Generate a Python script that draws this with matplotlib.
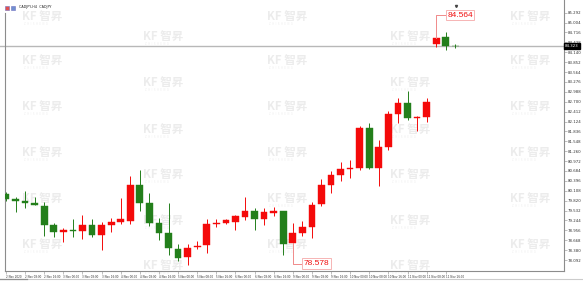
import matplotlib.pyplot as plt
from matplotlib.patches import Rectangle
from matplotlib.lines import Line2D
import numpy as np

W, H = 583, 286

# H4 candles
opens = [80.005, 79.859, 79.819, 79.743, 79.673, 79.102, 78.899, 78.966, 78.936, 79.102,
         78.820, 79.111, 79.207, 79.228, 80.276, 79.760, 79.178, 78.870, 78.412, 78.188,
         78.462, 78.529, 79.132, 79.161, 79.207, 79.353, 79.519, 79.286, 79.469, 79.519,
         78.578, 78.870, 79.044, 79.723, 80.267, 80.567, 80.733, 80.762, 81.927, 80.762,
         81.373, 82.343, 82.654, 82.235, 82.264, 84.372, 84.593, 84.334]
highs = [80.072, 79.935, 80.101, 79.935, 79.772, 79.178, 79.033, 79.277, 79.394, 79.277,
         79.207, 79.306, 79.889, 80.538, 80.712, 80.034, 79.315, 79.760, 78.549, 78.558,
         78.645, 79.277, 79.277, 79.277, 79.402, 79.935, 79.597, 79.597, 79.626, 79.519,
         79.178, 79.228, 79.790, 80.450, 80.692, 80.954, 81.004, 81.994, 82.090, 81.586,
         82.439, 82.800, 83.013, 82.285, 82.800, 84.564, 84.739, 84.372]
lows = [79.810, 79.498, 79.597, 79.679, 78.791, 78.771, 78.625, 78.753, 78.695, 78.771,
        78.383, 78.916, 79.140, 79.140, 79.528, 79.082, 78.674, 78.238, 78.072, 77.947,
        78.404, 78.287, 79.044, 79.132, 78.966, 79.257, 78.966, 79.111, 79.373, 78.238,
        78.578, 78.791, 78.724, 79.664, 80.034, 80.401, 80.471, 80.712, 80.733, 80.247,
        81.295, 82.072, 82.168, 81.857, 82.119, 84.302, 84.206, 84.256]
closes = [79.868, 79.810, 79.743, 79.693, 79.111, 78.907, 78.966, 78.936, 79.102, 78.829,
          79.102, 79.207, 79.277, 80.276, 79.743, 79.161, 78.870, 78.433, 78.159, 78.450,
          78.508, 79.132, 79.161, 79.257, 79.373, 79.519, 79.286, 79.481, 79.510, 78.558,
          78.887, 79.044, 79.693, 80.267, 80.558, 80.733, 80.779, 81.927, 80.762, 81.373,
          82.334, 82.672, 82.235, 82.264, 82.701, 84.564, 84.323, 84.323]

time_labels = ["2 Nov 2020", "2 Nov 08:00", "2 Nov 16:00", "3 Nov 00:00", "3 Nov 08:00",
               "3 Nov 16:00", "4 Nov 00:00", "4 Nov 08:00", "4 Nov 16:00", "5 Nov 00:00",
               "5 Nov 08:00", "5 Nov 16:00", "6 Nov 00:00", "6 Nov 08:00", "6 Nov 16:00",
               "9 Nov 00:00", "9 Nov 08:00", "9 Nov 16:00", "10 Nov 00:00", "10 Nov 08:00",
               "10 Nov 16:00", "11 Nov 00:00", "11 Nov 08:00", "11 Nov 16:00"]

price_ticks = [85.292, 85.004, 84.716, 84.428, 84.140, 83.852, 83.564, 83.276, 82.988,
               82.700, 82.412, 82.124, 81.836, 81.548, 81.260, 80.972, 80.684, 80.396,
               80.108, 79.820, 79.532, 79.244, 78.956, 78.668, 78.380, 78.092]

last_price = 84.323
high_mark = 84.564
low_mark = 78.578
symbol = "CADJPY,H4  CADJPY"

up_col = "#f40a0a"
down_col = "#237f1b"

fig = plt.figure(figsize=(W / 100, H / 100), dpi=100)
fig.patch.set_facecolor("white")


def fx(x):
    return x / W


def fy(y):
    return 1 - y / H


# watermark grid
cjk = ["Noto Sans CJK SC", "DejaVu Sans"]
for col_x, rows in [((22, 267, 510), (16, 60, 106, 152, 198, 244)),
                    ((143, 390), (36, 82, 129, 174, 220, 265))]:
    for wx in col_x:
        for wy in rows:
            fig.text(fx(wx), fy(wy), "KF 智昇", family=cjk, fontsize=8.3,
                     fontweight="bold", color="#ececec", va="center", ha="left", zorder=-2)
            fig.text(fx(wx + 2), fy(wy + 8), "Z  H  I  S  H  E  N  G", fontsize=1.8,
                     color="#ededed", va="center", ha="left", zorder=-2)

ax = fig.add_axes([fx(5), 15 / H, 559 / W, 271 / H])
ax.patch.set_alpha(0)

x = np.arange(len(opens))
o = np.array(opens)
c = np.array(closes)
cols = [up_col if cc >= oo else down_col for oo, cc in zip(o, c)]
bottoms = np.minimum(o, c)
heights = np.maximum(np.abs(c - o), 0.012)

ax.vlines(x, lows, highs, colors=cols, lw=0.7, zorder=2)
ax.bar(x, heights, 0.7, bottom=bottoms, color=cols, edgecolor=cols, lw=0.3, zorder=3)

ax.set_xlim(-0.105, 58.37)
ax.set_ylim(77.772, 85.662)

# current price line
ax.axhline(last_price, xmin=-5 / 559, xmax=1, color="#b8b8b8", lw=1.0, zorder=1, clip_on=False)
ax.text(1.002, last_price, "%.3f" % last_price, transform=ax.get_yaxis_transform(),
        fontsize=2.8, color="white", va="center", ha="left",
        bbox=dict(boxstyle="square,pad=0.35", fc="black", ec="black"))

# high / low markers
ux = 1 / 9.56      # data units per pixel, x
uy = 0.029115      # data units per pixel, y
mark_col = "#f08a8a"
hi_i, lo_i = 45, 30
ax.plot([hi_i, hi_i, hi_i + 10 * ux], [high_mark, high_mark + 22.7 * uy, high_mark + 22.7 * uy],
        color=mark_col, lw=0.7, clip_on=False, zorder=4)
ax.text(hi_i + 11 * ux, high_mark + 22.7 * uy, "%.3f" % high_mark, family="Liberation Sans",
        fontsize=6, color="#f01010", ha="left", va="center", zorder=5,
        bbox=dict(boxstyle="square,pad=0.15", fc="white", ec="#f6b4b4", lw=0.7))
ax.plot([hi_i + 20 * ux], [high_mark + 31.5 * uy], marker="v", ms=1.5, color="#444444",
        clip_on=False, zorder=5)
ax.plot([lo_i, lo_i, lo_i + 10 * ux], [low_mark, low_mark - 20.2 * uy, low_mark - 20.2 * uy],
        color=mark_col, lw=0.7, clip_on=False, zorder=4)
ax.text(lo_i + 11 * ux, low_mark - 20.2 * uy, "%.3f" % low_mark, family="Liberation Sans",
        fontsize=6, color="#f01010", ha="left", va="center", zorder=5,
        bbox=dict(boxstyle="square,pad=0.2", fc="white", ec="#f6b4b4", lw=0.7))

# axes styling
ax.spines["top"].set_visible(False)
for s in ["left", "right", "bottom"]:
    ax.spines[s].set_color("#8c8c8c")
    ax.spines[s].set_linewidth(0.8)
ax.spines["left"].set_bounds(77.772, 85.662 - 13 * uy)

ax.yaxis.tick_right()
ax.set_yticks(price_ticks)
ax.set_yticklabels(["%.3f" % v for v in price_ticks])
ax.tick_params(axis="y", labelsize=2.8, length=2, width=0.4, pad=1,
               colors="#8c8c8c", labelcolor="#333333")

ax.set_xticks(x[::2])
ax.set_xticklabels(time_labels, ha="left")
ax.tick_params(axis="x", labelsize=2.0, length=2, width=0.4, pad=1.2,
               colors="#8c8c8c", labelcolor="#333333")

# top-left symbol caption
fig.patches.append(Rectangle((fx(5), fy(10)), 4 / W, 4 / H, transform=fig.transFigure,
                             fc="#e05050", ec="#7070c0", lw=0.4))
fig.patches.append(Rectangle((fx(11), fy(10)), 4 / W, 4 / H, transform=fig.transFigure,
                             fc="#7090d0", ec="#7070c0", lw=0.4))
fig.text(fx(19), fy(7), symbol, fontsize=2.4, color="#222222", va="center", ha="left")

# bottom strip
fig.lines.append(Line2D([0, 1], [fy(279), fy(279)], transform=fig.transFigure,
                        color="#cccccc", lw=0.8))
fig.lines.append(Line2D([0, fx(27)], [fy(279), fy(279)], transform=fig.transFigure,
                        color="#909090", lw=0.9))

fig.savefig("out.png", dpi=100)
